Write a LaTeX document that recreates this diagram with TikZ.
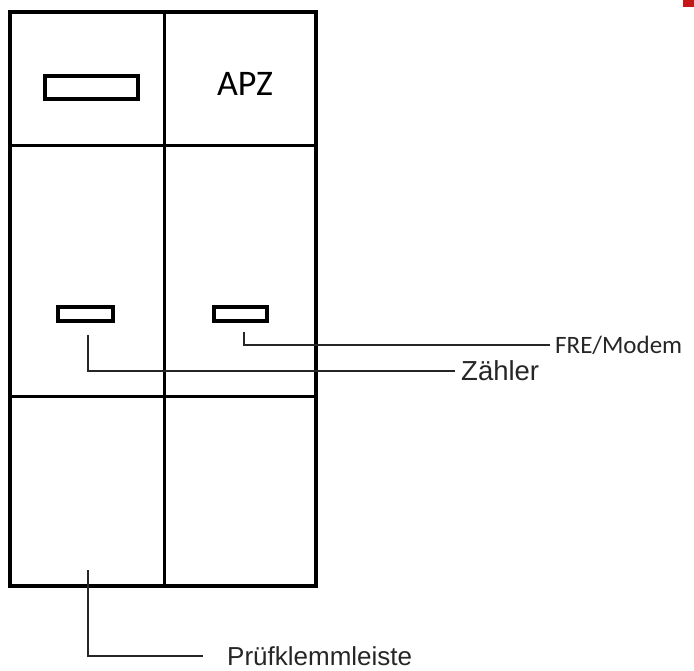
\documentclass[tikz,border=0pt]{standalone}
\usepackage{fontspec}
\setmainfont{Carlito}
\newfontfamily\arialfont{Liberation Sans}
\usetikzlibrary{positioning}
\definecolor{markred}{RGB}{196,24,24}

\begin{document}
\begin{tikzpicture}[
    x=1pt, y=-1pt,
    frame/.style={line width=4.2pt},
    divider/.style={line width=3pt},
    slot/.style={draw, line width=3.6pt, inner sep=0pt},
    leader/.style={draw=black!85, line width=1.4pt},
    tag/.style={anchor=west, inner sep=0pt, inner xsep=6pt, font=\arialfont\fontsize{26}{28}\selectfont, text=black!85},
    tagc/.style={anchor=west, inner sep=0pt, inner xsep=5pt, font=\fontsize{25}{28}\selectfont, text=black!85}
]
\useasboundingbox (0,0) rectangle (694,671);

% cabinet
\draw[divider] (164,12) -- (164,586);
\draw[divider] (10,146) -- (316,146);
\draw[divider] (10,396) -- (316,396);
\draw[frame] (10,12) rectangle (316,586);

% fields
\node[slot, minimum width=93pt, minimum height=23pt] (apzslot) at (91.5,87.5) {};
\node[font=\fontsize{36}{40}\selectfont] (apz) at (245,84) {APZ};
\node[slot, minimum width=55pt, minimum height=14pt] (zaehler) at (85.5,314) {};
\node[slot, minimum width=53pt, minimum height=14pt] (modem) at (240.5,314) {};

% labels
\node[tag, font=\arialfont\fontsize{27.5}{30}\selectfont] (zlab) at (455,371) {Zähler};
\node[tagc] (mlab) at (550,345) {FRE/Modem};
\node[tag] (plab) at (221,656) {Prüfklemmleiste};

% leader lines
\coordinate (ztop) at (88,335);
\coordinate (mtop) at (244,332);
\coordinate (ptop) at (88,570);
\draw[leader] (ztop) |- (zlab.west);
\draw[leader] (mtop) |- (mlab.west);
\draw[leader] (ptop) |- ([xshift=-18pt]plab.west);

\fill[markred] (683,0) rectangle (694,7);
\end{tikzpicture}
\end{document}
